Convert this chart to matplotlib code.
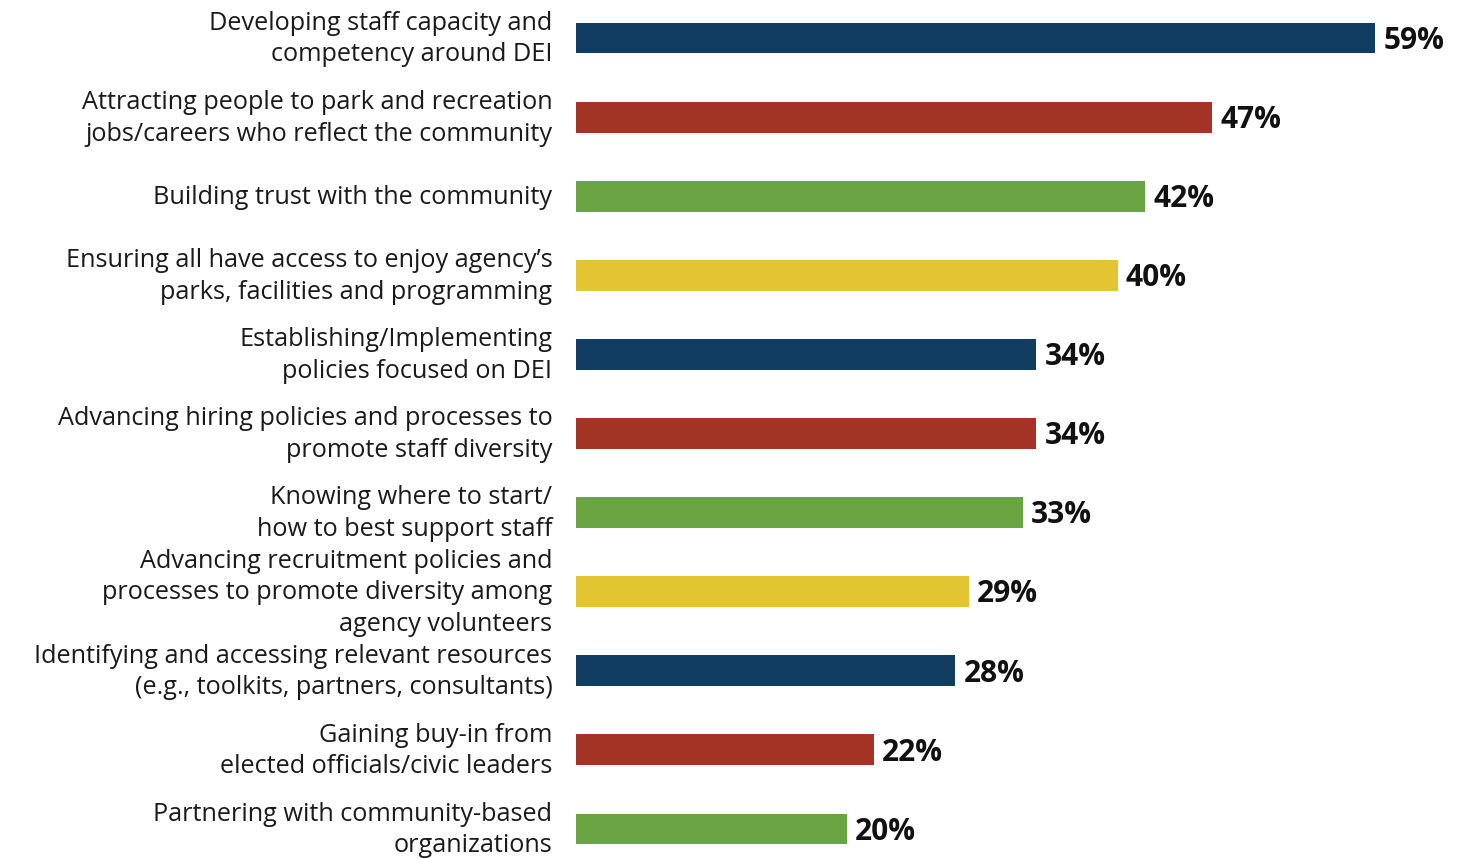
import matplotlib
matplotlib.use("Agg")
import matplotlib.pyplot as plt

categories = [
    "Developing staff capacity and\ncompetency around DEI",
    "Attracting people to park and recreation\njobs/careers who reflect the community",
    "Building trust with the community",
    "Ensuring all have access to enjoy agency\u2019s\nparks, facilities and programming",
    "Establishing/Implementing\npolicies focused on DEI",
    "Advancing hiring policies and processes to\npromote staff diversity",
    "Knowing where to start/\nhow to best support staff",
    "Advancing recruitment policies and\nprocesses to promote diversity among\nagency volunteers",
    "Identifying and accessing relevant resources\n(e.g., toolkits, partners, consultants)",
    "Gaining buy-in from\nelected officials/civic leaders",
    "Partnering with community-based\norganizations",
]
values = [59, 47, 42, 40, 34, 34, 33, 29, 28, 22, 20]
palette = ["#123d62", "#a23325", "#6aa342", "#e3c531"]

plt.rcParams["font.family"] = ["Open Sans", "DejaVu Sans"]

W, H = 1463, 859
fig = plt.figure(figsize=(W / 100, H / 100), dpi=100)

# axes geometry in pixels
x0 = 576
px_per_unit = 13.54
xmax = 65
ax = fig.add_axes([x0 / W, 0, xmax * px_per_unit / W, 1])

ypos = list(range(len(values)))
colors = [palette[i % 4] for i in range(len(values))]
ax.barh(ypos, values, height=0.39, color=colors)

step = 79.1
ax.set_ylim(10 + (H - 829) / step, -38 / step)
ax.set_xlim(0, xmax)

# value labels at the end of each bar
for y, v in zip(ypos, values):
    ax.annotate(f"{v}%", (v, y), xytext=(6, -2), textcoords="offset points",
                va="center", ha="left", fontsize=21.5, fontweight="bold",
                color="#111111")

# category labels, right-aligned left of the bars
for y, cat in zip(ypos, categories):
    ax.annotate(cat, (0, y), xycoords=("axes fraction", "data"),
                xytext=(-17, -0.8), textcoords="offset points",
                va="center", ha="right", fontsize=18.2, color="#1a1a1a",
                linespacing=1.35, annotation_clip=False)

ax.set_yticks([])
ax.set_xticks([])
for s in ax.spines.values():
    s.set_visible(False)

fig.savefig("out.png", dpi=100)
